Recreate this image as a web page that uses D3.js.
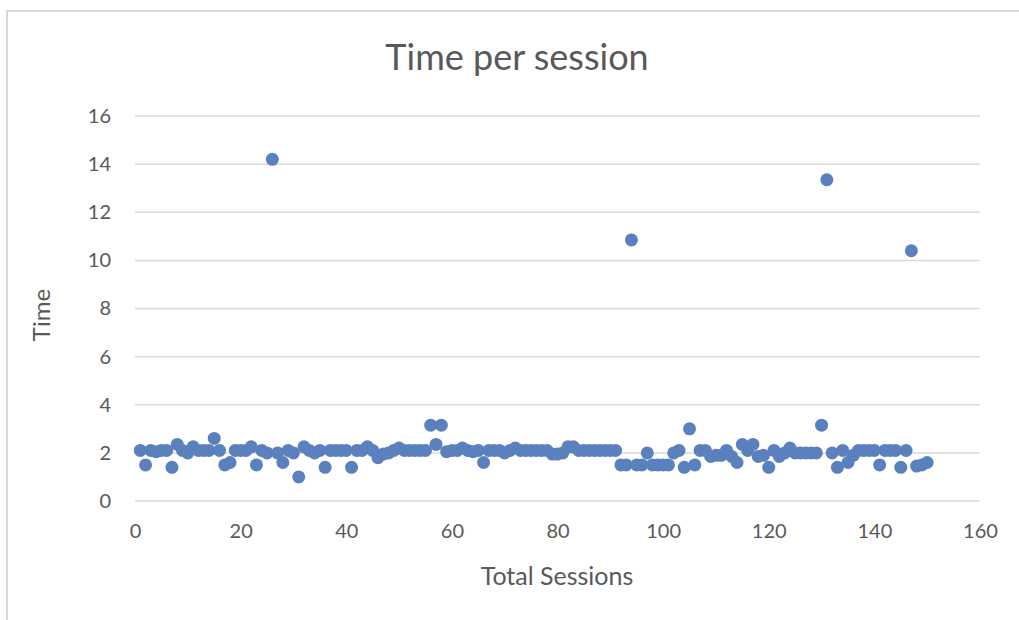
<!DOCTYPE html>
<html><head><meta charset="utf-8">
<script src="https://cdnjs.cloudflare.com/ajax/libs/d3/7.8.5/d3.min.js"></script>
<style>
html,body{margin:0;padding:0;background:#fff;}
svg{display:block;}
</style></head>
<body>
<script>
const title = "Time per session";
const xLabel = "Total Sessions";
const yLabel = "Time";
const xTicks = [0,20,40,60,80,100,120,140,160];
const yTicks = [0,2,4,6,8,10,12,14,16];
const sessions = d3.range(1,151);
const times = [
 2.1,1.5,2.1,2.05,2.1,2.1,1.4,2.35,2.1,2.0,
 2.25,2.1,2.1,2.1,2.6,2.1,1.5,1.6,2.1,2.1,
 2.1,2.25,1.5,2.1,2.0,14.2,2.0,1.6,2.1,2.0,
 1.0,2.25,2.1,2.0,2.1,1.4,2.1,2.1,2.1,2.1,
 1.4,2.1,2.1,2.25,2.1,1.8,1.95,2.0,2.1,2.2,
 2.1,2.1,2.1,2.1,2.1,3.15,2.35,3.15,2.05,2.1,
 2.1,2.2,2.1,2.05,2.1,1.6,2.1,2.1,2.1,2.0,
 2.1,2.2,2.1,2.1,2.1,2.1,2.1,2.1,1.95,1.95,
 2.0,2.25,2.25,2.1,2.1,2.1,2.1,2.1,2.1,2.1,
 2.1,1.5,1.5,10.85,1.5,1.5,2.0,1.5,1.5,1.5,
 1.5,2.0,2.1,1.4,3.0,1.5,2.1,2.1,1.85,1.9,
 1.9,2.1,1.85,1.6,2.35,2.1,2.35,1.85,1.9,1.4,
 2.1,1.85,2.0,2.2,2.0,2.0,2.0,2.0,2.0,3.15,
 13.35,2.0,1.4,2.1,1.6,1.9,2.1,2.1,2.1,2.1,
 1.5,2.1,2.1,2.1,1.4,2.1,10.4,1.45,1.5,1.6
];

const W = 1019, H = 620;
const svg = d3.select("body").append("svg").attr("width", W).attr("height", H);
const font = "Lato, 'Open Sans', sans-serif";
const textCol = "#595959";

// chart border
svg.append("path").attr("d", `M7,${H} L7,11 L${W},11`)
  .attr("fill","none").attr("stroke","#d9d9d9").attr("stroke-width",2);

const x = d3.scaleLinear().domain([0,160]).range([135,980]);
const y = d3.scaleLinear().domain([0,16]).range([501,116]);

// gridlines
svg.append("g").selectAll("line").data(yTicks).join("line")
  .attr("x1", x(0)).attr("x2", x(160))
  .attr("y1", d=>y(d)).attr("y2", d=>y(d))
  .attr("stroke","#d9d9d9").attr("stroke-width",1.5);

// y axis labels
const yAxis = svg.append("g").attr("transform",`translate(${x(0)-24},0)`)
  .call(d3.axisLeft(y).tickValues(yTicks).tickSize(0).tickPadding(0));
yAxis.select(".domain").remove();
yAxis.selectAll("text").attr("font-family",font).attr("font-size",20).attr("fill",textCol);

// x axis labels
const xAxis = svg.append("g").attr("transform",`translate(0,${y(0)+23})`)
  .call(d3.axisBottom(x).tickValues(xTicks).tickSize(0).tickPadding(0));
xAxis.select(".domain").remove();
xAxis.selectAll("text").attr("font-family",font).attr("font-size",20).attr("fill",textCol);

// points
svg.append("g").selectAll("circle").data(sessions).join("circle")
  .attr("cx", (d,i)=>x(d)).attr("cy",(d,i)=>y(times[i])).attr("r",6.5)
  .attr("fill","#5a80be");

// title
svg.append("text").attr("x",517).attr("y",70).attr("text-anchor","middle")
  .attr("font-family",font).attr("font-size",36).attr("fill",textCol).text(title);

// axis titles
svg.append("text").attr("x",557).attr("y",585).attr("text-anchor","middle")
  .attr("font-family",font).attr("font-size",25).attr("fill",textCol).text(xLabel);
svg.append("text").attr("transform","translate(50,315) rotate(-90)").attr("text-anchor","middle")
  .attr("font-family",font).attr("font-size",24).attr("fill",textCol).text(yLabel);
</script>
</body></html>
